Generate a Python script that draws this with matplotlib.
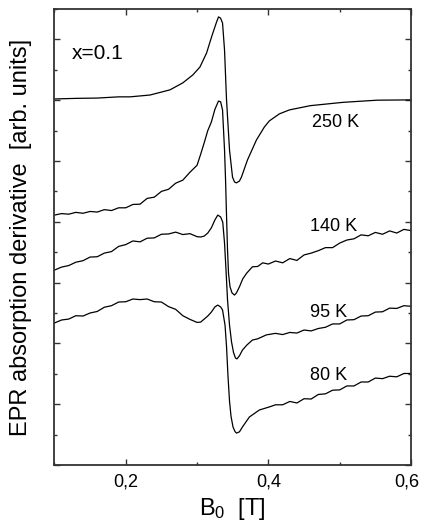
import numpy as np
import matplotlib
matplotlib.use("Agg")
import matplotlib.pyplot as plt
import matplotlib.transforms as mtransforms
from matplotlib.ticker import MultipleLocator, FixedLocator

plt.rcParams['font.family'] = ['Liberation Sans', 'DejaVu Sans']
plt.rcParams['mathtext.default'] = 'regular'

# EPR spectra, x = B0 [T], y = arbitrary units (curves already offset)
b_250 = [0.100, 0.130, 0.160, 0.190, 0.206, 0.234, 0.262, 0.280, 0.294, 0.304,
         0.3133, 0.3203, 0.3273, 0.3301, 0.3329, 0.3357, 0.3385, 0.3413, 0.3455, 0.3497,
         0.3525, 0.3552, 0.3594, 0.3622, 0.3706, 0.3832, 0.3944, 0.4014, 0.4154, 0.4294,
         0.4587, 0.5049, 0.5524, 0.600]
s_250 = [12.04, 12.06, 12.07, 12.11, 12.11, 12.17, 12.34, 12.57, 12.83, 13.09,
         13.55, 14.08, 14.57, 14.74, 14.70, 14.54, 13.65, 12.01, 10.36, 9.47,
         9.31, 9.28, 9.34, 9.47, 10.03, 10.69, 11.12, 11.32, 11.55, 11.68,
         11.82, 11.93, 12.00, 12.01]

b_140 = [0.10, 0.11, 0.12, 0.13, 0.14, 0.15, 0.16, 0.17, 0.18, 0.19,
         0.20, 0.21, 0.22, 0.23, 0.24, 0.25, 0.26, 0.27, 0.28, 0.29,
         0.30, 0.305, 0.310, 0.315, 0.320, 0.325, 0.330, 0.333, 0.3357, 0.3385,
         0.3399, 0.3413, 0.3427, 0.3441, 0.3462, 0.3490, 0.3525, 0.3552, 0.3594, 0.364,
         0.3692, 0.3776, 0.385, 0.392, 0.40, 0.41, 0.42, 0.43, 0.44, 0.45,
         0.46, 0.47, 0.48, 0.49, 0.50, 0.51, 0.52, 0.53, 0.54, 0.55,
         0.56, 0.57, 0.58, 0.59, 0.60]
s_140 = [8.22, 8.27, 8.25, 8.31, 8.28, 8.34, 8.32, 8.40, 8.37, 8.46,
         8.46, 8.57, 8.58, 8.77, 8.81, 9.00, 9.07, 9.27, 9.37, 9.63,
         9.86, 10.22, 10.60, 11.00, 11.28, 11.70, 11.97, 11.95, 11.68, 10.36,
         9.40, 8.20, 7.07, 6.30, 5.86, 5.66, 5.59, 5.66, 5.86, 6.12,
         6.30, 6.52, 6.53, 6.65, 6.61, 6.71, 6.65, 6.79, 6.73, 6.91,
         6.97, 7.05, 7.15, 7.15, 7.30, 7.40, 7.44, 7.57, 7.54, 7.65,
         7.59, 7.70, 7.63, 7.75, 7.71]

b_95 = [0.10, 0.11, 0.12, 0.13, 0.14, 0.15, 0.16, 0.17, 0.18, 0.19,
        0.20, 0.21, 0.22, 0.23, 0.24, 0.25, 0.26, 0.27, 0.28, 0.29,
        0.30, 0.305, 0.31, 0.315, 0.32, 0.325, 0.329, 0.333, 0.336, 0.3385,
        0.3406, 0.3427, 0.3455, 0.3483, 0.3511, 0.3538, 0.3559, 0.3594, 0.3636, 0.37,
        0.3776, 0.385, 0.3972, 0.41, 0.42, 0.43, 0.44, 0.45, 0.46, 0.47,
        0.48, 0.49, 0.50, 0.51, 0.52, 0.53, 0.54, 0.55, 0.56, 0.57,
        0.58, 0.59, 0.60]
s_95 = [6.41, 6.51, 6.56, 6.67, 6.72, 6.84, 6.85, 6.97, 7.02, 7.19,
        7.25, 7.37, 7.34, 7.46, 7.47, 7.59, 7.60, 7.66, 7.58, 7.61,
        7.51, 7.50, 7.53, 7.63, 7.80, 8.06, 8.22, 8.16, 7.99, 7.30,
        6.40, 5.43, 4.60, 4.05, 3.70, 3.52, 3.49, 3.59, 3.78, 3.95,
        4.11, 4.15, 4.28, 4.33, 4.29, 4.36, 4.34, 4.44, 4.41, 4.49,
        4.53, 4.64, 4.64, 4.77, 4.78, 4.90, 4.91, 5.03, 5.04, 5.16,
        5.15, 5.24, 5.22]

b_80 = [0.10, 0.11, 0.12, 0.13, 0.14, 0.15, 0.16, 0.17, 0.18, 0.19,
        0.20, 0.21, 0.22, 0.23, 0.24, 0.25, 0.26, 0.27, 0.28, 0.29,
        0.30, 0.305, 0.31, 0.315, 0.32, 0.325, 0.329, 0.333, 0.3357, 0.3392,
        0.3413, 0.3434, 0.3455, 0.3476, 0.3504, 0.3532, 0.3552, 0.3594, 0.3636, 0.3734,
        0.3874, 0.4014, 0.41, 0.42, 0.43, 0.44, 0.45, 0.46, 0.47, 0.48,
        0.49, 0.50, 0.51, 0.52, 0.53, 0.54, 0.55, 0.56, 0.57, 0.58,
        0.59, 0.60]
s_80 = [4.67, 4.77, 4.80, 4.91, 4.90, 5.00, 5.05, 5.19, 5.24, 5.36,
        5.37, 5.46, 5.44, 5.46, 5.37, 5.36, 5.21, 5.12, 4.91, 4.79,
        4.69, 4.70, 4.80, 4.90, 5.03, 5.20, 5.26, 5.20, 5.10, 4.60,
        3.90, 2.90, 2.10, 1.60, 1.25, 1.10, 1.05, 1.09, 1.25, 1.58,
        1.81, 1.91, 1.98, 1.98, 2.09, 2.04, 2.18, 2.17, 2.32, 2.34,
        2.46, 2.47, 2.60, 2.60, 2.73, 2.73, 2.86, 2.84, 2.92, 2.90,
        3.01, 3.01]

labels = ["250 K", "140 K", "95 K", "80 K"]
label_x = [0.494, 0.491, 0.484, 0.485]
label_y = [11.28, 7.83, 5.03, 2.96]

fig = plt.figure(figsize=(4.22, 5.29), dpi=100)
ax = fig.add_axes([0.129, 0.121, 0.845, 0.862])

for b, s in [(b_250, s_250), (b_140, s_140), (b_95, s_95), (b_80, s_80)]:
    ax.plot(b, s, color='black', lw=0.9)

for lab, lx, ly in zip(labels, label_x, label_y):
    ax.text(lx, ly, lab, fontsize=13, ha='center', va='center')
ax.text(0.124, 13.55, "x=0.1", fontsize=15, ha='left', va='center')

ax.set_xlim(0.1, 0.6)
ax.set_ylim(0, 15)
ax.xaxis.set_major_locator(FixedLocator([0.2, 0.4, 0.6]))
ax.xaxis.set_minor_locator(FixedLocator([0.1, 0.3, 0.5]))
ax.yaxis.set_major_locator(MultipleLocator(2))
ax.yaxis.set_minor_locator(MultipleLocator(1))
ax.set_xticklabels(["0,2", "0,4", "0,6"])
ax.set_yticklabels([])
ax.tick_params(which='both', direction='in', top=True, right=True, color='#333333', width=1.0)
ax.tick_params(which='major', length=4.5, labelsize=13, pad=6)
ax.tick_params(which='minor', length=2.5)
for sp in ax.spines.values():
    sp.set_linewidth(1.3)
    sp.set_color('#333333')

# nudge the last tick label so it stays inside the figure
last = ax.get_xticklabels()[-1]
last.set_transform(last.get_transform() + mtransforms.ScaledTranslation(-4 / 100, 0, fig.dpi_scale_trans))

ax.set_xlabel("B$_0$  [T]", fontsize=17, labelpad=4)
ax.set_ylabel("EPR absorption derivative  [arb. units]", fontsize=17, labelpad=10)

fig.savefig("out.png", dpi=100)
